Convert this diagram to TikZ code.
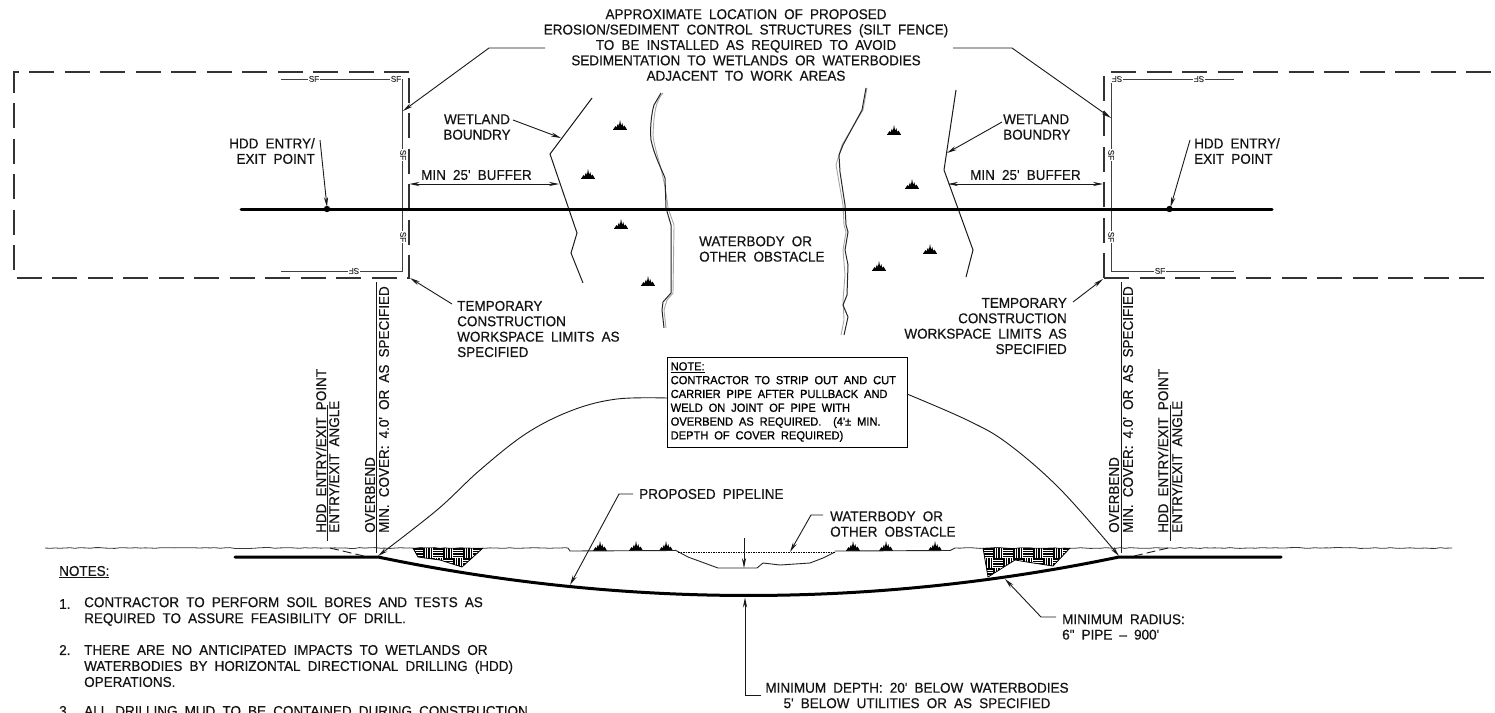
\documentclass[tikz,border=0pt]{standalone}
\usepackage{fontspec}
\usetikzlibrary{arrows.meta,decorations.pathmorphing}
\newfontfamily\cadfont[WordSpace=1.9,FakeStretch=0.95,FakeBold=0.5]{Liberation Sans}
\newfontfamily\cadboldfont[WordSpace=1.9,FakeStretch=0.95,FakeBold=0.9]{Liberation Sans}
\newcommand\cadmain{\cadfont\fontsize{14.2}{15.4}\selectfont}
\newcommand\cadnote{\cadboldfont\fontsize{11.7}{13.8}\selectfont}
\newcommand\cadlist{\cadfont\fontsize{14.2}{16}\selectfont}
\newcommand\cadsf{\cadfont\fontsize{8.5}{9}\selectfont}
\tikzset{
 x=1pt,y=-1pt,
 txt/.style={font=\cadmain,inner sep=0pt,text=black!92},
 tl/.style={txt,align=flush left,anchor=west},
 tr/.style={txt,align=flush right,anchor=east},
 tc/.style={txt,align=flush center,anchor=center},
 vt/.style={txt,rotate=90,anchor=west},
 sflabel/.style={font=\cadsf,inner sep=.6pt,fill=white,text=black!80},
 limit/.style={line width=1.1pt,black!80,dash pattern=on 25pt off 10.5pt},
 fence/.style={line width=1pt,black!75},
 lead/.style={line width=.9pt,black!90},
 arr/.style={lead,-{Stealth[length=10pt,width=4.2pt]}},
 pipeline/.style={line width=3pt,black,line cap=round},
 wet/.style={line width=1pt,black!90},
 shore/.style={line width=1pt,black!85},
 shoreb/.style={line width=.9pt,black!35},
 ground/.style={line width=.8pt,black!78,decorate,decoration={random steps,segment length=5pt,amplitude=.45pt}},
 marsh/.pic={
  \fill[black] (-6.5,0) -- (-4.5,-3) -- (-3.6,-1.5) -- (-2,-5.5) -- (-1.2,-2.5) -- (0,-9) -- (1.2,-3) -- (2.2,-6) -- (3.4,-2) -- (4.5,-3.5) -- (6.5,0) -- cycle;
  \draw[line width=.9pt,black] (-7,0) -- (7,0);
 }
}
\newcommand\basket[2]{% x range, y range
 \foreach \i in {0,...,8}{\foreach \j in {0,...,3}{
  \pgfmathtruncatemacro\odd{mod(\i+\j,2)}
  \pgfmathsetmacro\xa{#1+\i*10}\pgfmathsetmacro\ya{#2+\j*10}
  \ifnum\odd=0
   \foreach \k in {1,3.5,6,8.5}{\draw[line width=1.3pt,black] (\xa,\ya+\k) -- (\xa+10,\ya+\k);}
  \else
   \foreach \k in {1,3.5,6,8.5}{\draw[line width=1.3pt,black] (\xa+\k,\ya) -- (\xa+\k,\ya+10);}
  \fi
 }}}
\begin{document}
\begin{tikzpicture}
\useasboundingbox[fill=white] (0,0) rectangle (1495,712);
% named points
\coordinate (pl) at (241,209); \coordinate (pr) at (1272,209);
\coordinate (dl) at (327,209); \coordinate (dr) at (1169.5,209);
\coordinate (lca) at (545,48); \coordinate (lcb) at (489,48); \coordinate (lcc) at (403,111);
\coordinate (rca) at (953,48); \coordinate (rcb) at (1012,48); \coordinate (rcc) at (1111,118);
\coordinate (hla) at (320,140); \coordinate (hlb) at (327,207);
\coordinate (hra) at (1190,140); \coordinate (hrb) at (1170.5,207);
\coordinate (bla) at (409.5,184); \coordinate (blb) at (559,184);
\coordinate (bra) at (948,184); \coordinate (brb) at (1103,184);
\coordinate (wla) at (513,120); \coordinate (wlb) at (561,138);
\coordinate (wra) at (1002,122); \coordinate (wrb) at (947,153);
\coordinate (tla) at (452,304); \coordinate (tlb) at (410,278);
\coordinate (tra) at (1073,302); \coordinate (trb) at (1103,279);
\coordinate (ova) at (376,282); \coordinate (ovb) at (376,553);
\coordinate (hea) at (327.5,405); \coordinate (heb) at (327.5,541);
\coordinate (ora) at (1121,282); \coordinate (orb) at (1121,553);
\coordinate (hfa) at (1170,405); \coordinate (hfb) at (1170,541);
\coordinate (ppa) at (378,557); \coordinate (ppb) at (1119,557);
\coordinate (ppl) at (235,557); \coordinate (ppr) at (1281,557);
\coordinate (dsa) at (330,548); \coordinate (dsb) at (366,556.5);
\coordinate (dta) at (1168,548); \coordinate (dtb) at (1132,556.5);
\coordinate (cl) at (667,398); \coordinate (cle) at (378,556);
\coordinate (cr) at (907,394); \coordinate (cre) at (1119,556);
\coordinate (ppla) at (633,494); \coordinate (pplb) at (619,494); \coordinate (pplc) at (570,585);
\coordinate (wba) at (823,515); \coordinate (wbb) at (811,515); \coordinate (wbc) at (790,552);
\coordinate (sda) at (744,538); \coordinate (sdb) at (744,568);
\coordinate (mda) at (761,695); \coordinate (mdb) at (745,695); \coordinate (mdc) at (745,597.5);
\coordinate (mra) at (1056,617); \coordinate (mrb) at (1041,617); \coordinate (mrc) at (1005,579);
% limits
\draw[limit] (409,72) -- (14,72) -- (14,278) -- (409,278) -- cycle;
\draw[limit] (1104,278) -- (1104,72) -- (1495,72);
\draw[limit] (1104,278) -- (1495,278);
% fences
\draw[fence] (281,79) -- (402,79) -- (402,271) -- (281,271);
\draw[fence] (1234,79) -- (1111,79) -- (1111,271) -- (1234,271);
\node[sflabel] (sf1) at (314,79) {SF};
\node[sflabel] (sf2) at (396,79) {SF};
\node[sflabel,rotate=-90] (sf3) at (403,155) {SF};
\node[sflabel,rotate=-90] (sf4) at (403,237) {SF};
\node[sflabel,rotate=180] (sf5) at (354,271) {SF};
\node[sflabel,rotate=180] (sf6) at (1117,79) {SF};
\node[sflabel,rotate=180] (sf7) at (1199,79) {SF};
\node[sflabel,rotate=-90] (sf8) at (1111,155) {SF};
\node[sflabel,rotate=-90] (sf9) at (1111,237) {SF};
\node[sflabel] (sf10) at (1160,271) {SF};
% wetland boundaries
\draw[wet] (592,98) -- (550,154) -- (577,233) -- (571,253) -- (583,283);
\draw[wet] (956,90) -- (944,170) -- (973,250) -- (966,277);
% shores
\draw[shoreb] (663,93) .. controls (657,100) and (654,108) .. (653,135) .. controls (654,150) and (664,170) .. (668,208) -- (674,225) -- (673,293) -- (667,300) -- (664,310) -- (666,328);
\draw[shore] (661,93) -- (654,105) .. controls (651,115) and (650,130) .. (651,140) .. controls (654,155) and (662,170) .. (665,178) -- (666,208) -- (671,225) -- (671,293) -- (663,302) -- (662,310) -- (664,328);
\draw[shoreb] (867,88) -- (863,110) -- (842,145) -- (836,165) -- (843,205) -- (844,225) -- (846,232) -- (843,250) -- (845,275) -- (843,300) -- (844,320) -- (841,335);
\draw[shore] (866,88) -- (862,110) -- (843,145) -- (839,155) -- (840,172) -- (845,205) -- (846,225) -- (848,232) -- (845,250) -- (848,265) -- (847,295) -- (843,305) -- (848,317) -- (844,335);
% marsh symbols
\foreach \mx/\my in {620/129,588/178,621/228,648/285,894/134,912/188,930/253,879/270,600/550,636/550,666/550,853/550,886/550,935/550}{\pic at (\mx,\my) {marsh};}
% main pipeline
\draw[pipeline] (pl) -- (pr);
\fill (dl) circle (3.2pt); \fill (dr) circle (3.2pt);
% top leaders
\draw[arr] (lca) -- (lcb) -- (lcc);
\draw[arr] (rca) -- (rcb) -- (rcc);
\draw[arr] (hla) -- (hlb);
\draw[arr] (hra) -- (hrb);
\draw[lead,{Stealth[length=10pt,width=4.2pt]}-{Stealth[length=10pt,width=4.2pt]}] (bla) -- (blb);
\draw[lead,{Stealth[length=10pt,width=4.2pt]}-{Stealth[length=10pt,width=4.2pt]}] (bra) -- (brb);
\draw[arr] (wla) -- (wlb);
\draw[arr] (wra) -- (wrb);
\draw[arr] (tla) -- (tlb);
\draw[arr] (tra) -- (trb);
% top texts
\node[tc] (top) at (746,45) {APPROXIMATE LOCATION OF PROPOSED\\EROSION/SEDIMENT CONTROL STRUCTURES (SILT FENCE)\\TO BE INSTALLED AS REQUIRED TO AVOID\\SEDIMENTATION TO WETLANDS OR WATERBODIES\\ADJACENT TO WORK AREAS};
\node[tr] (hddl) at (315,151) {HDD ENTRY/\\EXIT POINT};
\node[tl] (hddr) at (1194,151) {HDD ENTRY/\\EXIT POINT};
\node[tc] (wetl) at (477,127) {WETLAND\\BOUNDRY};
\node[tl] (wetr) at (1003,127) {WETLAND\\BOUNDRY};
\node[tl] (bufl) at (421,175) {MIN 25' BUFFER};
\node[tl] (bufr) at (970,175) {MIN 25' BUFFER};
\node[tl] (wbody) at (699,249) {WATERBODY OR\\OTHER OBSTACLE};
\node[tl] (templ) at (457,329) {TEMPORARY\\CONSTRUCTION\\WORKSPACE LIMITS AS\\SPECIFIED};
\node[tr] (tempr) at (1067,326) {TEMPORARY\\CONSTRUCTION\\WORKSPACE LIMITS AS\\SPECIFIED};
% vertical annotations
\draw[lead] (ova) -- (ovb); \draw[lead] (hea) -- (heb);
\draw[lead] (ora) -- (orb); \draw[lead] (hfa) -- (hfb);
\node[vt] (v1) at (370,533) {OVERBEND};
\node[vt] (v2) at (384,533) {MIN. COVER: 4.0' OR AS SPECIFIED};
\node[vt] (v3) at (321,533) {HDD ENTRY/EXIT POINT};
\node[vt] (v4) at (334,533) {ENTRY/EXIT ANGLE};
\node[vt] (v5) at (1114,533) {OVERBEND};
\node[vt] (v6) at (1128,533) {MIN. COVER: 4.0' OR AS SPECIFIED};
\node[vt] (v7) at (1163,533) {HDD ENTRY/EXIT POINT};
\node[vt] (v8) at (1177,533) {ENTRY/EXIT ANGLE};
% ground
\draw[ground] (45,548) -- (568,548);
\draw[line width=.9pt,black!85] (568,548) -- (570,551) -- (675,550.5);
\draw[line width=.9pt,black!85] (675,550) -- (688,557) -- (718,568) -- (757,568) -- (763,563) -- (780,565) -- (810,563) -- (823,558) -- (835,552);
\draw[line width=.9pt,black,dash pattern=on 1.5pt off 1pt] (678,552) -- (835,552);
\draw[line width=.9pt,black!85] (835,551) -- (950,550.5) -- (955,548);
\draw[ground] (955,548) -- (1452,548);
% hatched wedges
\begin{scope}
\clip (413,548) -- (483,548) -- (462,567) -- (440,560) -- (418,557) -- cycle;
\basket{413}{548}
\end{scope}
\draw[line width=.8pt,black] (413,548) -- (418,557) -- (440,560) -- (462,567) -- (483,548);
\begin{scope}
\clip (983,548) -- (1070,548) -- (1053,566) -- (1027,562) -- (1015,560) -- (988,577) -- cycle;
\basket{983}{548}
\end{scope}
\draw[line width=.8pt,black] (983,548) -- (988,577) -- (1015,560) -- (1027,562) -- (1053,566) -- (1070,548);
% profile pipe
\draw[pipeline] (ppl) -- (ppa) .. controls (625,608.3) and (872,608.3) .. (ppb) -- (ppr);
\draw[lead,dash pattern=on 9pt off 4pt] (dsa) -- (dsb);
\draw[lead,dash pattern=on 9pt off 4pt] (dta) -- (dtb);
% note box and curves
\node[draw=black,line width=1.3pt,minimum width=240pt,minimum height=90pt,inner sep=0pt,anchor=north west] (notebox) at (667,357) {};
\node[font=\cadnote,inner sep=0pt,anchor=north west,align=flush left,text=black] (notetxt) at (670.5,362) {\underline{NOTE:}\\CONTRACTOR TO STRIP OUT AND CUT\\CARRIER PIPE AFTER PULLBACK AND\\WELD ON JOINT OF PIPE WITH\\OVERBEND AS REQUIRED. \ (4'± MIN.\\DEPTH OF COVER REQUIRED)};
\draw[arr] plot[smooth,tension=.6] coordinates {(cl) (617,399) (573,410) (527,433) (480,470) (437,510) (cle)};
\draw[arr] plot[smooth,tension=.6] coordinates {(cr) (967,420) (1007,443) (1060,489) (cre)};
% lower leaders
\draw[arr] (ppla) -- (pplb) -- (pplc);
\draw[arr] (wba) -- (wbb) -- (wbc);
\draw[arr] (sda) -- (sdb);
\draw[arr] (mda) -- (mdb) -- (mdc);
\draw[arr] (mra) -- (mrb) -- (mrc);
\node[tl] (ppt) at (639,494) {PROPOSED PIPELINE};
\node[tl] (wbt) at (830,524) {WATERBODY OR\\OTHER OBSTACLE};
\node[tl] (mrt) at (1062,627) {MINIMUM RADIUS:\\6" PIPE – 900'};
\node[tc] (mdt) at (917,695.5) {MINIMUM DEPTH: 20' BELOW WATERBODIES\\5' BELOW UTILITIES OR AS SPECIFIED};
% notes
\node[tl,font=\cadlist] (nh) at (59,572) {\underline{NOTES:}};
\node[tl,font=\cadlist] (n1a) at (59,604) {1.};
\node[tl,font=\cadlist] (n1) at (84,611.5) {CONTRACTOR TO PERFORM SOIL BORES AND TESTS AS\\REQUIRED TO ASSURE FEASIBILITY OF DRILL.};
\node[tl,font=\cadlist] (n2a) at (59,650) {2.};
\node[tl,font=\cadlist] (n2) at (84,666) {THERE ARE NO ANTICIPATED IMPACTS TO WETLANDS OR\\WATERBODIES BY HORIZONTAL DIRECTIONAL DRILLING (HDD)\\OPERATIONS.};
\node[tl,font=\cadlist] (n3a) at (59,711) {3.};
\node[tl,font=\cadlist] (n3) at (84,711) {ALL DRILLING MUD TO BE CONTAINED DURING CONSTRUCTION};
\end{tikzpicture}
\end{document}
